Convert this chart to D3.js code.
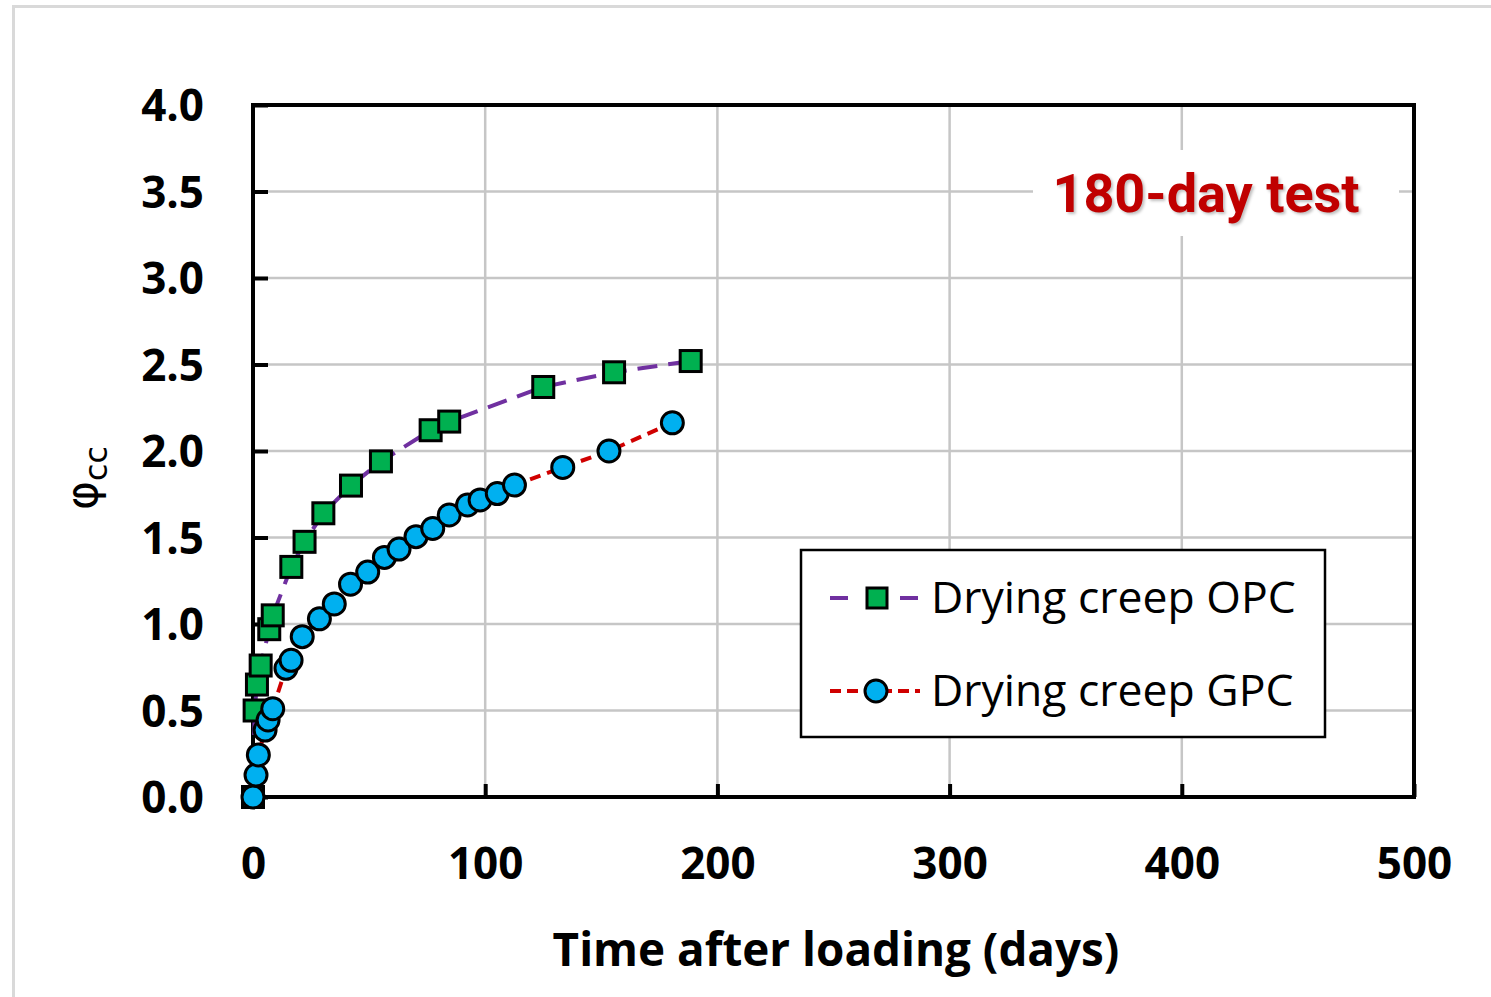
<!DOCTYPE html>
<html>
<head>
<meta charset="utf-8">
<script src="https://cdn.jsdelivr.net/npm/d3@7/dist/d3.min.js"></script>
<style>
  html, body { margin: 0; padding: 0; background: #fff; }
  svg { display: block; }
</style>
</head>
<body>
<script>
// creep coefficient readings, days after loading
var opcDays = [0, 0.7, 1.7, 3.3, 7, 8.5, 16.5, 22.2, 30.3, 42.2, 55.1, 76.5, 84.5, 125, 155.5, 188.5];
var opcPhi  = [0, 0.50, 0.65, 0.76, 0.97, 1.05, 1.33, 1.475, 1.64, 1.80, 1.94, 2.12, 2.17, 2.37, 2.455, 2.52];

var gpcDays = [0, 1.3, 2.3, 5.2, 6.5, 8.5, 14.2, 16.4, 21.2, 28.6, 35, 42, 49.4, 56.6, 62.9, 70.2, 77.4, 84.5, 92.4, 97.8, 105.2, 112.6, 133.4, 153.3, 180.6];
var gpcPhi  = [0, 0.127, 0.243, 0.387, 0.445, 0.51, 0.744, 0.79, 0.927, 1.03, 1.116, 1.23, 1.30, 1.385, 1.433, 1.505, 1.552, 1.63, 1.688, 1.717, 1.754, 1.803, 1.905, 2.0, 2.163];

var xTicks = [0, 100, 200, 300, 400, 500];
var yTicks = [0, 0.5, 1, 1.5, 2, 2.5, 3, 3.5, 4];

var seriesNames = ["Drying creep OPC", "Drying creep GPC"];

var width = 1491, height = 997;
var margin = {left: 253, right: 77, top: 105, bottom: 200};

var svg = d3.select("body").append("svg")
    .attr("width", width)
    .attr("height", height);

// outer chart-area border (partly cropped)
svg.append("rect")
    .attr("x", 13.5).attr("y", 6.5)
    .attr("width", width + 20).attr("height", height + 20)
    .attr("fill", "none")
    .attr("stroke", "#d9d9d9")
    .attr("stroke-width", 3);

var x = d3.scaleLinear().domain([0, 500]).range([margin.left, width - margin.right]);
var y = d3.scaleLinear().domain([0, 4]).range([height - margin.bottom, margin.top]);

var grid = svg.append("g");
grid.selectAll(".vg").data(xTicks.slice(1, -1)).enter().append("line")
    .attr("x1", d => x(d)).attr("x2", d => x(d))
    .attr("y1", y(0)).attr("y2", y(4))
    .attr("stroke", "#c6c6c6").attr("stroke-width", 2.5);
grid.selectAll(".hg").data(yTicks.slice(1, -1)).enter().append("line")
    .attr("x1", x(0)).attr("x2", x(500))
    .attr("y1", d => y(d)).attr("y2", d => y(d))
    .attr("stroke", "#c6c6c6").attr("stroke-width", 2.5);

// title label sits on a white patch that hides the grid
var title = svg.append("g");
title.append("rect")
    .attr("x", 1033).attr("y", 150)
    .attr("width", 366).attr("height", 86)
    .attr("fill", "#fff");
title.append("text")
    .attr("x", 1206).attr("y", 212)
    .attr("text-anchor", "middle")
    .style("font-family", "Roboto")
    .style("font-weight", 700)
    .style("font-size", "54px")
    .style("fill", "#c00000")
    .style("text-shadow", "2px 2px 3px rgba(0,0,0,0.25)")
    .text("180-day test");

// axes: inward ticks, frame drawn separately
var xAxis = svg.append("g")
    .attr("transform", "translate(0," + y(0) + ")")
    .call(d3.axisBottom(x).tickValues(xTicks).tickSize(-13).tickPadding(0).tickFormat(d3.format("d")));
xAxis.select(".domain").remove();
xAxis.selectAll(".tick line").attr("stroke", "#000").attr("stroke-width", 4);
xAxis.selectAll(".tick text")
    .attr("y", 82)
    .attr("dy", 0)
    .style("font-family", "'Open Sans'")
    .style("font-weight", 700)
    .style("font-size", "44px")
    .style("fill", "#000");

var yAxis = svg.append("g")
    .attr("transform", "translate(" + x(0) + ",0)")
    .call(d3.axisLeft(y).tickValues(yTicks).tickSize(-15).tickFormat(d3.format(".1f")));
yAxis.select(".domain").remove();
yAxis.selectAll(".tick line").attr("stroke", "#000").attr("stroke-width", 4);
yAxis.selectAll(".tick text")
    .attr("x", -49)
    .attr("dy", "0.36em")
    .style("font-family", "'Open Sans'")
    .style("font-weight", 700)
    .style("font-size", "44px")
    .style("fill", "#000");

svg.append("rect")
    .attr("x", x(0)).attr("y", y(4))
    .attr("width", x(500) - x(0)).attr("height", y(0) - y(4))
    .attr("fill", "none")
    .attr("stroke", "#000")
    .attr("stroke-width", 4);

// axis titles
svg.append("text")
    .attr("x", 836).attr("y", 966)
    .attr("text-anchor", "middle")
    .style("font-family", "'Open Sans'")
    .style("font-weight", 700)
    .style("font-size", "45.8px")
    .text("Time after loading (days)");

var yl = svg.append("text")
    .attr("transform", "translate(97,478) rotate(-90)")
    .attr("text-anchor", "middle")
    .style("font-family", "'DejaVu Sans'")
    .style("font-size", "44px");
yl.append("tspan").text("φ");
yl.append("tspan").attr("dy", 10).style("font-size", "32px").text("cc");

// series
var line = d3.line().x(d => x(d[0])).y(d => y(d[1]));
var opc = d3.zip(opcDays, opcPhi);
var gpc = d3.zip(gpcDays, gpcPhi);

svg.append("path").datum(opc)
    .attr("d", line)
    .attr("fill", "none")
    .attr("stroke", "#7030a0")
    .attr("stroke-width", 4)
    .attr("stroke-dasharray", "20,11");
svg.append("path").datum(gpc)
    .attr("d", line)
    .attr("fill", "none")
    .attr("stroke", "#d00000")
    .attr("stroke-width", 4)
    .attr("stroke-dasharray", "11,7");

var sq = 21;
svg.append("g").selectAll("rect").data(opc).enter().append("rect")
    .attr("x", d => x(d[0]) - sq / 2).attr("y", d => y(d[1]) - sq / 2)
    .attr("width", sq).attr("height", sq)
    .attr("fill", "#00b050")
    .attr("stroke", "#000").attr("stroke-width", 3);

svg.append("g").selectAll("circle").data(gpc).enter().append("circle")
    .attr("cx", d => x(d[0])).attr("cy", d => y(d[1]))
    .attr("r", 11)
    .attr("fill", "#00b0f0")
    .attr("stroke", "#000").attr("stroke-width", 3);

// legend
var lg = svg.append("g");
lg.append("rect")
    .attr("x", 801).attr("y", 550)
    .attr("width", 524).attr("height", 187)
    .attr("fill", "#fff")
    .attr("stroke", "#000").attr("stroke-width", 2.5);

var rowY = [598, 691];
lg.append("line").attr("x1", 830).attr("x2", 918).attr("y1", rowY[0]).attr("y2", rowY[0])
    .attr("stroke", "#7030a0").attr("stroke-width", 4).attr("stroke-dasharray", "18,52,18");
lg.append("rect").attr("x", 877 - 10).attr("y", rowY[0] - 10).attr("width", 20).attr("height", 20)
    .attr("fill", "#00b050").attr("stroke", "#000").attr("stroke-width", 3);
lg.append("line").attr("x1", 830).attr("x2", 920).attr("y1", rowY[1]).attr("y2", rowY[1])
    .attr("stroke", "#d00000").attr("stroke-width", 4).attr("stroke-dasharray", "11,6");
lg.append("circle").attr("cx", 876).attr("cy", rowY[1]).attr("r", 11)
    .attr("fill", "#00b0f0").attr("stroke", "#000").attr("stroke-width", 3);

lg.selectAll(".lt").data(seriesNames).enter().append("text")
    .attr("x", 931).attr("y", (d, i) => rowY[i] + 15)
    .style("font-family", "'Open Sans'")
    .style("font-size", "44.5px")
    .text(d => d);
</script>
</body>
</html>
